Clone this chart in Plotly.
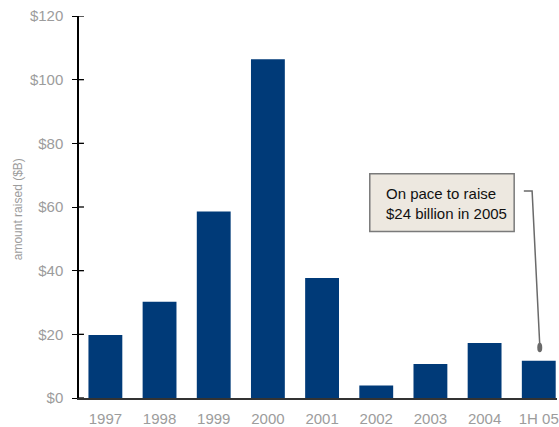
import plotly.graph_objects as go

# Amount raised per year, $ billions
years = ["1997", "1998", "1999", "2000", "2001", "2002", "2003", "2004", "1H 05"]
amount_raised = [19.8, 30.2, 58.6, 106.4, 37.7, 3.9, 10.7, 17.3, 11.7]

y_ticks = [0, 20, 40, 60, 80, 100, 120]
y_tick_labels = ["$0", "$20", "$40", "$60", "$80", "$100", "$120"]

callout_text = "On pace to raise<br>$24 billion in 2005"

BAR = "#003A78"
GREY_TEXT = "#9C9C9C"
FONT = "Liberation Sans, Arial, sans-serif"

fig = go.Figure(
    go.Bar(
        x=list(range(len(years))),
        y=amount_raised,
        marker=dict(color=BAR, line=dict(width=0)),
        width=0.625,
        hoverinfo="skip",
    )
)

W, H = 559, 427
ml, mr, mt, mb = 79, 0, 16, 27
pw, ph = W - ml - mr, H - mt - mb


def px_x(px):
    return (px - ml) / pw


def px_y(py):
    return (H - mb - py) / ph


shapes = []
# tick marks continue a little inside the y axis
for v in y_ticks:
    shapes.append(dict(type="line", xref="paper", yref="y",
                       x0=0, x1=5 / pw, y0=v, y1=v,
                       line=dict(color="#000000", width=1.3)))

# callout box
shapes.append(dict(type="rect", xref="paper", yref="paper",
                   x0=px_x(371), x1=px_x(516), y0=px_y(232.7), y1=px_y(174.7),
                   fillcolor="#EDE8E0", line=dict(color="#7A7A7A", width=1.5),
                   layer="above"))
# elbow connector toward the 1H 05 bar
shapes.append(dict(type="path", xref="paper", yref="paper",
                   path=f"M {px_x(525.7)},{px_y(192)} L {px_x(534)},{px_y(192)} "
                        f"L {px_x(541.7)},{px_y(347)}",
                   line=dict(color="#6A6A6A", width=1.5)))
shapes.append(dict(type="circle", xref="paper", yref="paper",
                   x0=px_x(539.2), x1=px_x(544.2), y0=px_y(354), y1=px_y(344.5),
                   fillcolor="#6A6A6A", line=dict(color="#6A6A6A", width=0)))

annotations = [
    dict(text=callout_text, xref="paper", yref="paper",
         x=px_x(385), y=px_y(204), xanchor="left", yanchor="middle",
         align="left", showarrow=False,
         font=dict(family=FONT, size=15, color="#111111")),
    dict(text="amount raised ($B)", xref="paper", yref="paper",
         x=px_x(18), y=px_y(210), xanchor="center", yanchor="middle",
         textangle=-90, showarrow=False,
         font=dict(family=FONT, size=12, color=GREY_TEXT)),
]

fig.update_layout(
    width=W, height=H,
    margin=dict(l=ml, r=mr, t=mt, b=mb, pad=0),
    paper_bgcolor="white", plot_bgcolor="white",
    showlegend=False,
    font=dict(family=FONT, size=15, color=GREY_TEXT),
    shapes=shapes,
    annotations=annotations,
    xaxis=dict(
        range=[-0.487, -0.487 + pw / 54.4],
        tickmode="array", tickvals=list(range(len(years))), ticktext=years,
        showgrid=False, zeroline=False,
        showline=True, linecolor="#333333", linewidth=1.5,
        ticks="", tickfont=dict(size=15, color=GREY_TEXT),
        ticklabeloverflow="allow",
        ticklabelstandoff=6,
        fixedrange=True,
    ),
    yaxis=dict(
        range=[0, 120],
        tickmode="array", tickvals=y_ticks, ticktext=y_tick_labels,
        showgrid=False, zeroline=False,
        showline=True, linecolor="#000000", linewidth=1.5,
        ticks="outside", ticklen=5, tickwidth=1.3, tickcolor="#000000",
        tickfont=dict(size=15, color=GREY_TEXT),
        ticklabelstandoff=6,
        fixedrange=True,
    ),
)

fig.write_html("out.html")
